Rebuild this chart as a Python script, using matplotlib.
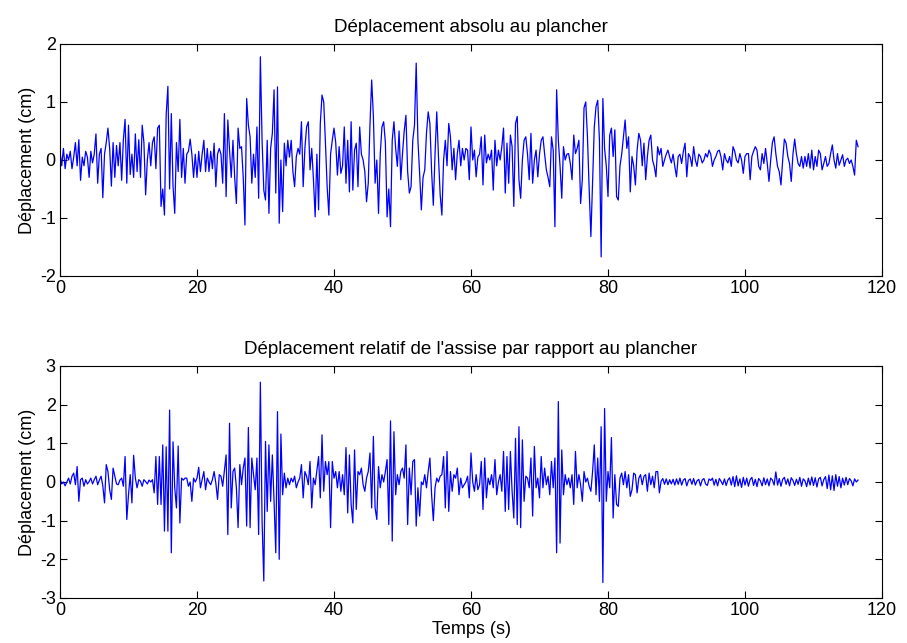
import numpy as np
import matplotlib
matplotlib.use("Agg")
import matplotlib.pyplot as plt

plt.rcParams['font.family'] = ['Liberation Sans', 'DejaVu Sans']
plt.rcParams['axes.unicode_minus'] = False

dt = 0.25  # sampling step (s)

# Absolute floor displacement (cm), 0.25 s samples, one row = 5 s
abs_disp = [
    0.15, -0.1, 0.2, -0.15, 0.1, 0.0, 0.15, -0.15, 0.05, 0.3, -0.1, 0.35, -0.35, 0.05, -0.1, 0.15, 0.05, -0.3, 0.15, -0.05,
    0.1, 0.45, -0.4, 0.1, 0.2, -0.65, 0.1, 0.3, 0.55, 0.2, -0.45, 0.3, -0.3, 0.25, -0.1, 0.3, -0.35, 0.35, 0.7, -0.4,
    0.6, -0.25, 0.1, -0.3, 0.45, -0.2, 0.35, -0.3, 0.6, 0.3, -0.6, 0.0, 0.3, -0.1, 0.3, 0.4, -0.15, 0.55, 0.6, -0.8,
    -0.5, -0.95, 0.78, 1.27, -0.5, 0.8, -0.45, -0.92, 0.3, -0.2, 0.7, -0.3, 0.2, -0.4, 0.1, 0.15, 0.36, 0.1, -0.3, 0.1,
    -0.3, 0.15, -0.2, 0.1, 0.34, -0.2, 0.2, -0.2, 0.15, -0.15, 0.29, -0.46, 0.1, 0.2, 0.1, -0.4, 0.8, -0.63, 0.69, 0.17,
    -0.3, 0.34, -0.3, -0.75, 0.55, 0.2, 0.23, -0.3, -1.12, 1.06, 0.6, 0.4, -0.4, 0.1, -0.3, 0.57, -0.66, 1.78, 0.34, -0.52,
    -0.69, 0.34, -0.92, 0.2, 0.46, 1.21, -0.57, 1.26, -1.09, 0.0, -0.89, 0.29, -0.1, 0.34, 0.05, 0.34, -0.2, -0.46, 0.06, 0.2,
    0.1, 0.66, -0.46, 0.2, 0.57, 0.66, -0.17, 0.2, -0.34, -0.98, 0.1, -0.86, 0.63, 1.12, 1.0, 0.3, -0.46, -0.95, 0.1, 0.34,
    0.55, 0.3, -0.26, 0.23, -0.23, -0.1, 0.57, -0.4, 0.34, -0.55, 0.66, -0.52, 0.17, 0.29, -0.46, 0.57, 0.1, 0.0, -0.2, -0.72,
    -0.4, 0.6, 1.38, 0.75, -0.4, 0.0, -0.92, 0.1, 0.57, 0.66, 0.3, -0.98, -0.5, -1.15, 0.34, 0.66, 0.2, -0.11, 0.5, -0.34,
    0.11, 0.5, 0.77, -0.2, -0.57, -0.46, 0.34, 0.6, 1.67, 0.34, -0.23, -0.86, -0.3, -0.17, 0.46, 0.83, 0.63, -0.2, -0.78, 0.1,
    0.83, 0.06, -0.6, -0.95, 0.0, 0.34, -0.1, 0.63, 0.4, -0.17, 0.2, -0.34, 0.11, 0.34, -0.1, 0.2, 0.0, 0.2, 0.17, -0.34,
    0.57, 0.0, 0.17, -0.29, 0.05, 0.1, 0.4, -0.43, 0.43, -0.05, 0.1, 0.0, 0.17, -0.52, 0.34, -0.1, 0.17, 0.0, 0.23, 0.55,
    -0.57, 0.29, -0.4, 0.43, 0.23, -0.8, 0.63, 0.75, -0.34, -0.66, 0.0, 0.34, 0.4, 0.1, -0.34, 0.46, -0.4, 0.0, 0.17, -0.29,
    0.1, 0.34, 0.4, 0.1, -0.17, -0.3, -0.46, 0.4, 0.17, -1.15, 1.21, 0.34, -0.11, -0.66, 0.23, 0.0, 0.1, 0.11, -0.06, -0.34,
    0.43, 0.11, 0.2, 0.34, -0.75, -0.34, 0.9, 1.0, 0.4, -0.5, -1.32, -0.4, 0.57, 0.92, 1.03, 0.34, -1.67, 1.06, 0.2, -0.1,
    -0.63, 0.43, 0.55, 0.06, 0.52, -0.63, -0.69, -0.1, 0.1, 0.4, 0.69, 0.2, 0.4, -0.55, 0.06, -0.1, -0.43, 0.17, 0.46, 0.34,
    -0.1, 0.29, -0.34, 0.06, 0.34, 0.43, 0.0, -0.11, -0.29, 0.23, 0.09, 0.2, -0.11, 0.0, 0.1, 0.17, 0.05, -0.05, 0.1, -0.11,
    -0.29, 0.06, 0.1, -0.06, 0.15, 0.29, -0.29, 0.11, 0.05, -0.11, 0.23, 0.0, -0.11, 0.1, 0.06, -0.05, 0.0, 0.11, 0.05, 0.17,
    0.1, -0.11, 0.0, 0.06, 0.15, 0.17, 0.05, -0.17, 0.11, 0.0, -0.05, 0.06, -0.11, 0.23, 0.15, 0.0, -0.05, 0.11, 0.0, -0.23,
    0.06, 0.11, 0.11, -0.34, 0.06, 0.15, 0.23, 0.17, -0.11, -0.17, 0.11, -0.06, 0.2, -0.06, -0.37, 0.0, 0.3, 0.4, 0.11, -0.11,
    -0.2, -0.43, 0.0, 0.36, 0.29, 0.06, -0.06, -0.37, 0.1, 0.36, 0.11, -0.06, -0.11, 0.06, -0.14, 0.06, -0.11, 0.11, -0.14, 0.17,
    -0.17, 0.06, -0.11, 0.17, 0.11, -0.17, -0.06, 0.06, -0.11, -0.06, 0.11, 0.26, 0.0, -0.14, 0.11, -0.09, 0.0, 0.09, -0.11, 0.0,
    0.03, -0.06, 0.0, -0.11, -0.26, 0.34, 0.23,
]

# Relative seat displacement with respect to the floor (cm)
rel_disp = [
    0.09, -0.05, 0.0, -0.1, 0.0, 0.1, -0.05, 0.15, 0.23, -0.07, 0.4, -0.5, 0.06, 0.1, -0.11, 0.06, -0.05, 0.01, 0.1, -0.05,
    0.06, 0.15, -0.07, 0.05, 0.15, -0.1, -0.54, 0.45, 0.27, -0.2, -0.45, 0.36, 0.15, -0.05, -0.07, 0.05, 0.1, -0.11, 0.66, -0.97,
    -0.33, 0.19, -0.54, 0.69, 0.1, -0.15, 0.06, 0.02, -0.11, 0.06, 0.01, -0.05, 0.05, 0.0, 0.06, -0.28, 0.66, -0.58, 0.66, -0.58,
    0.96, -1.27, 0.91, -1.27, 1.86, -1.83, 1.04, -0.15, -0.67, 0.93, -1.06, 0.1, 0.05, 0.1, 0.1, -0.11, 0.0, -0.5, 0.1, 0.0,
    0.1, 0.38, -0.15, 0.06, 0.27, -0.2, 0.1, 0.0, -0.07, 0.06, 0.27, -0.03, -0.45, 0.19, 0.15, -0.11, 0.3, 0.7, -1.36, 1.52,
    -0.67, 0.27, 0.36, -0.15, -1.18, 0.45, -0.07, 0.36, 0.62, -1.14, 1.41, -1.18, 0.62, 0.19, -0.2, 0.62, -1.36, 2.58, -1.0, -2.56,
    1.05, -0.76, 0.96, -0.5, 0.7, -0.5, -1.83, 1.82, -2.0, 1.24, -0.33, 0.23, -0.15, 0.1, -0.07, 0.1, 0.0, 0.15, -0.15, 0.0,
    0.1, 0.45, -0.41, 0.27, 0.15, -0.07, 0.53, -0.67, 0.1, -0.07, 0.3, 0.66, -0.41, 1.22, -0.24, 0.53, 0.19, 0.53, -1.18, 0.53,
    0.1, 0.27, -0.15, 0.27, -0.24, 0.19, -0.33, 0.89, -0.8, 0.7, -0.58, -1.06, 0.83, -0.71, 0.27, 0.19, 0.36, -0.07, -0.24, 0.1,
    0.27, 0.75, -0.67, 1.18, -0.67, -0.97, 0.4, -0.15, 0.19, 0.0, 0.27, 0.58, -1.1, 1.58, -1.53, 1.3, -0.33, 0.19, -0.07, 0.27,
    0.36, 0.1, 0.96, -1.1, 0.36, -0.33, 0.53, 0.58, -1.14, -0.15, -0.88, 0.0, -0.07, 0.19, -0.15, 0.27, 0.62, -0.33, -1.0, -0.15,
    0.1, 0.0, 0.15, 0.19, 0.66, -0.67, 0.79, -0.76, 0.27, -0.24, 0.19, 0.1, 0.36, -0.33, 0.1, -0.15, -0.07, 0.0, 0.15, -0.41,
    0.75, 0.0, -0.24, 0.19, -0.2, -0.07, 0.53, -0.71, 0.62, -0.41, 0.1, -0.07, 0.19, -0.15, 0.58, -0.33, 0.0, 0.19, -0.24, 0.79,
    -0.76, 0.66, -0.71, 0.79, -0.24, -0.93, 1.13, -1.1, 1.43, -1.18, 1.09, -0.5, 0.15, 0.1, -0.15, 0.62, -0.88, 0.92, -0.15, 0.1,
    -0.41, 0.66, -0.15, 0.36, -0.07, 0.15, -0.33, 0.53, -0.15, 0.62, -1.83, 2.08, -1.58, 0.83, -0.33, 0.19, -0.07, 0.1, -0.15, 0.19,
    -0.58, 0.79, -0.15, 0.19, -0.07, -0.5, 0.27, 0.0, 0.1, -0.11, -0.24, 0.27, 0.96, -0.33, 0.62, -0.5, 1.43, -2.6, 1.9, -0.5,
    0.27, -0.15, 1.15, -0.93, 0.19, -0.58, -0.63, 0.1, 0.23, -0.07, 0.27, -0.15, 0.19, -0.37, -0.2, 0.23, 0.19, -0.28, 0.1, 0.19,
    -0.07, 0.15, 0.19, -0.24, 0.23, -0.07, 0.15, -0.15, 0.27, 0.27, -0.28, 0.02, 0.09, -0.06, 0.08, -0.07, 0.06, -0.05, 0.07, -0.08,
    0.08, -0.06, 0.1, -0.08, 0.05, 0.09, -0.1, 0.04, 0.08, -0.06, 0.09, -0.08, 0.03, 0.07, -0.1, 0.05, 0.09, -0.05, -0.09, 0.08,
    0.04, 0.1, -0.08, 0.07, -0.1, 0.09, 0.02, -0.07, 0.08, -0.09, 0.05, 0.11, -0.08, 0.14, -0.12, 0.16, -0.1, 0.08, -0.14, 0.12,
    -0.08, 0.1, -0.11, 0.06, 0.12, -0.09, 0.07, -0.12, 0.09, 0.03, -0.1, 0.11, -0.07, 0.08, -0.1, 0.1, 0.05, -0.08, 0.26, -0.08,
    0.09, -0.11, 0.07, 0.12, -0.06, 0.08, -0.1, 0.11, 0.04, -0.09, 0.07, -0.06, 0.12, -0.11, 0.08, 0.03, -0.12, 0.1, -0.08, 0.13,
    -0.09, 0.11, -0.13, 0.08, 0.12, -0.1, 0.06, 0.14, -0.17, 0.18, -0.2, 0.16, -0.22, 0.19, -0.11, 0.14, -0.15, 0.1, -0.08, 0.12,
    -0.07, 0.09, 0.03, -0.1, 0.08, 0.0, 0.05,
]

titles = ["Déplacement absolu au plancher",
          "Déplacement relatif de l'assise par rapport au plancher"]
ylabel = "Déplacement (cm)"
xlabel = "Temps (s)"
xticks = [0, 20, 40, 60, 80, 100, 120]
yticks_top = [-2, -1, 0, 1, 2]
yticks_bot = [-3, -2, -1, 0, 1, 2, 3]

t_abs = np.arange(len(abs_disp)) * dt
t_rel = np.arange(len(rel_disp)) * dt

W, H = 907, 643
fig = plt.figure(figsize=(W / 100, H / 100), dpi=100)
ax1 = fig.add_axes([60 / W, 1 - 276 / H, 822 / W, 232 / H])
ax2 = fig.add_axes([60 / W, 1 - 598 / H, 822 / W, 232 / H])

fs = 13
for ax, t, y, title, yt in [(ax1, t_abs, abs_disp, titles[0], yticks_top),
                            (ax2, t_rel, rel_disp, titles[1], yticks_bot)]:
    ax.plot(t, y, color='#0000ff', linewidth=0.9)
    ax.set_xlim(0, 120)
    ax.set_ylim(yt[0], yt[-1])
    ax.set_xticks(xticks)
    ax.set_yticks(yt)
    ax.tick_params(direction='in', top=True, right=True, labelsize=fs, length=5, width=0.8, pad=3)
    ax.set_title(title, fontsize=13.5, pad=9)
    ax.set_ylabel(ylabel, fontsize=fs, labelpad=3)
    for s in ax.spines.values():
        s.set_linewidth(0.8)

ax2.set_xlabel(xlabel, fontsize=fs, labelpad=1)

fig.savefig("out.png", dpi=100)
